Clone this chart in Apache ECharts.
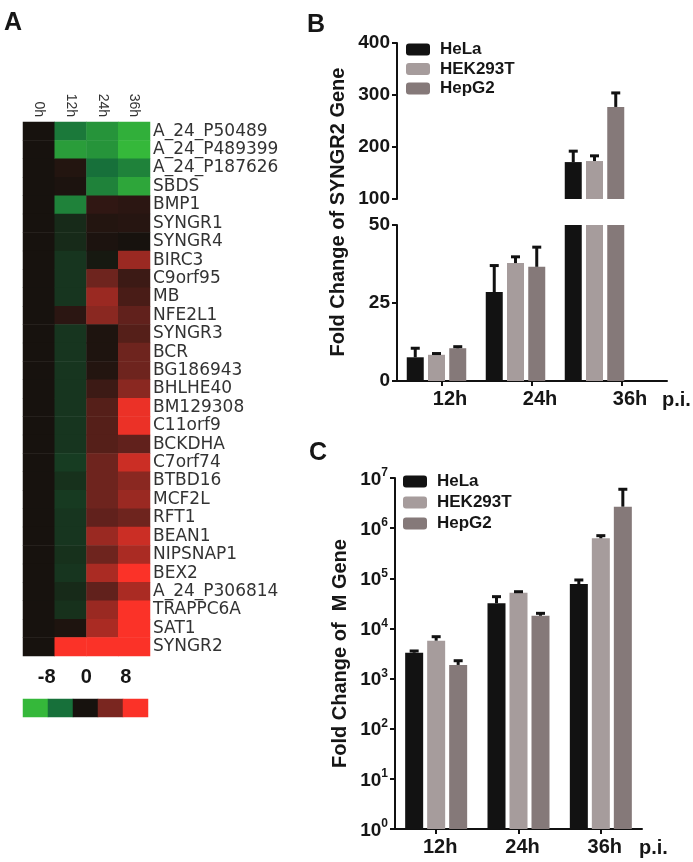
<!DOCTYPE html>
<html>
<head>
<meta charset="utf-8">
<script src="https://cdn.jsdelivr.net/npm/echarts@6/dist/echarts.min.js"></script>
<style>
html,body{margin:0;padding:0;background:#fff;}
#chart{width:693px;height:862px;}
</style>
</head>
<body>
<div id="chart"></div>
<script>
// ---------- Panel A data ----------
const genes = ['A_24_P50489','A_24_P489399','A_24_P187626','SBDS','BMP1','SYNGR1','SYNGR4','BIRC3','C9orf95','MB','NFE2L1','SYNGR3','BCR','BG186943','BHLHE40','BM129308','C11orf9','BCKDHA','C7orf74','BTBD16','MCF2L','RFT1','BEAN1','NIPSNAP1','BEX2','A_24_P306814','TRAPPC6A','SAT1','SYNGR2'];
const timepoints = ['0h','12h','24h','36h'];
const expr0h  = [0,0,0,0,0,0,0,0,0,0,0,0,0,0,0,0,0,0,0,0,0,0,0,0,0,0,0,0,0];
const expr12h = [-4.5,-6.5,0.5,0.2,-5,-1,-1,-1.5,-1.5,-1.5,0.8,-1.5,-1.5,-1.5,-1.5,-1.5,-1.5,-1.5,-1.8,-1.3,-1.7,-1.5,-1.5,-1.3,-1.5,-1.0,-1.3,0.3,8];
const expr24h = [-6,-6,-4,-5,1,0.5,0.2,-0.3,3.5,5,4.5,0.3,0.3,0.5,1.5,2.5,2.5,2.5,3.5,3.5,3.5,3,5,3.5,5.5,3,5,5.5,8];
const expr36h = [-7.5,-8,-5,-7,0.8,0.6,0,5,1.5,2,3,2.5,3.5,3.5,4.5,7.5,7.5,3,6.5,4.5,5,3.5,6.5,5.5,8,5.5,8,8,8];
const colorbarValues = [-8,-4,0,4,8];
const colorbarTicks = [-8,0,8];

// ---------- Panel B data ----------
const bCats = ['12h','24h','36h'];
const helaB = [7.6, 28.5, 171];
const helaBErr = [2.9, 8.5, 21];
const hekB = [8.4, 37.8, 173];
const hekBErr = [0.4, 2.0, 10];
const hepg2B = [10.5, 36.6, 277];
const hepg2BErr = [0.5, 6.3, 27];
const bUpperTicks = [100, 200, 300, 400];
const bLowerTicks = [0, 25, 50];

// ---------- Panel C data ----------
const cCats = ['12h','24h','36h'];
const helaC = [3280, 31700, 76900];
const helaCErr = [270, 11300, 15600];
const hekC = [5700, 51600, 627000];
const hekCErr = [1140, 2400, 81000];
const hepg2C = [1870, 17900, 2680000];
const hepg2CErr = [400, 2100, 3280000];
const cExponents = [0,1,2,3,4,5,6,7];

const cellNames = ['HeLa','HEK293T','HepG2'];
const cellColors = ['#121212','#a69c9c','#857979'];

const FONT = '"Liberation Sans", Arial, sans-serif';
const TXT = '#161616';

// heatmap data
const exprCols = [expr0h, expr12h, expr24h, expr36h];
const heatData = [];
exprCols.forEach((col, xi) => col.forEach((v, yi) => heatData.push([xi, yi, v])));
const cbData = colorbarValues.map((v, i) => [i, 0, v]);

function errRender(k, bw, gap, capW, lw) {
  return function (params, api) {
    const cat = api.value(0), v = api.value(1), e = api.value(2);
    const p0 = api.coord([cat, v]);
    const p1 = api.coord([cat, v + e]);
    const x = p0[0] + (k - 1) * (bw + gap);
    return {
      type: 'group',
      children: [
        {type: 'line', shape: {x1: x, y1: p0[1], x2: x, y2: p1[1]}, style: {stroke: '#111', lineWidth: lw}},
        {type: 'line', shape: {x1: x - capW / 2, y1: p1[1], x2: x + capW / 2, y2: p1[1]}, style: {stroke: '#111', lineWidth: lw}}
      ]
    };
  };
}

const bVals = [helaB, hekB, hepg2B];
const bErrs = [helaBErr, hekBErr, hepg2BErr];
const cVals = [helaC, hekC, hepg2C];
const cErrs = [helaCErr, hekCErr, hepg2CErr];

const BW_B = 17, GAP_B = 4.25;
const BW_C = 18, GAP_C = 4;

const series = [];
series.push({type: 'heatmap', xAxisIndex: 0, yAxisIndex: 0, data: heatData, itemStyle: {borderWidth: 0}});
series.push({type: 'heatmap', xAxisIndex: 1, yAxisIndex: 1, data: cbData, itemStyle: {borderWidth: 0}});
// B upper bars
[0,1,2].forEach(k => series.push({type: 'bar', name: cellNames[k], xAxisIndex: 3, yAxisIndex: 2, data: bVals[k], barWidth: BW_B, barGap: (GAP_B / BW_B * 100) + '%', clip: true, itemStyle: {color: cellColors[k]}}));
// B lower bars
[0,1,2].forEach(k => series.push({type: 'bar', name: cellNames[k], xAxisIndex: 4, yAxisIndex: 3, data: bVals[k], barWidth: BW_B, barGap: (GAP_B / BW_B * 100) + '%', clip: true, itemStyle: {color: cellColors[k]}}));
// B error bars upper / lower
[[3,2],[4,3]].forEach(([xi, yi]) => {
  [0,1,2].forEach(k => series.push({
    type: 'custom', xAxisIndex: xi, yAxisIndex: yi, clip: true, z: 5,
    data: bVals[k].map((v, i) => [i, v, bErrs[k][i]]),
    encode: {x: 0, y: 1},
    renderItem: errRender(k, BW_B, GAP_B, 9, 3)
  }));
});
// C bars
[0,1,2].forEach(k => series.push({type: 'bar', name: cellNames[k], xAxisIndex: 6, yAxisIndex: 5, data: cVals[k], barWidth: BW_C, barGap: (GAP_C / BW_C * 100) + '%', itemStyle: {color: cellColors[k]}}));
[0,1,2].forEach(k => series.push({
  type: 'custom', xAxisIndex: 6, yAxisIndex: 5, z: 5,
  data: cVals[k].map((v, i) => [i, v, cErrs[k][i]]),
  encode: {x: 0, y: 1},
  renderItem: errRender(k, BW_C, GAP_C, 9, 3)
}));

const boldLbl = {fontFamily: FONT, fontWeight: 'bold', color: TXT};
const axisLineBlk = {show: true, lineStyle: {color: '#111', width: 2}};
const axisTickBlk = {show: true, length: 5, lineStyle: {color: '#111', width: 2}};

const option = {
  backgroundColor: '#fff',
  animation: false,
  title: [
    {text: 'A', left: -1, top: 6, textStyle: {fontFamily: FONT, fontWeight: 'bold', fontSize: 25, color: TXT}},
    {text: 'B', left: 302, top: 8, textStyle: {fontFamily: FONT, fontWeight: 'bold', fontSize: 25, color: TXT}},
    {text: 'C', left: 304, top: 436, textStyle: {fontFamily: FONT, fontWeight: 'bold', fontSize: 25, color: TXT}}
  ],
  legend: [
    {orient: 'vertical', left: 401, top: 36, data: cellNames, icon: 'roundRect', itemWidth: 24, itemHeight: 12, itemGap: 2.5,
     textStyle: {fontFamily: FONT, fontWeight: 'bold', fontSize: 17, color: TXT, padding: [0,0,0,5]}},
    {orient: 'vertical', left: 398, top: 468, data: cellNames, icon: 'roundRect', itemWidth: 24, itemHeight: 12, itemGap: 4,
     textStyle: {fontFamily: FONT, fontWeight: 'bold', fontSize: 17, color: TXT, padding: [0,0,0,5]}}
  ],
  visualMap: {
    show: false, min: -8, max: 8, dimension: 2, seriesIndex: [0, 1],
    inRange: {color: ['#35b83a', '#17703a', '#17120e', '#7a2620', '#fb3228']}
  },
  grid: [
    {left: 23, top: 122, width: 127, height: 534},
    {left: 23, top: 699, width: 125, height: 18},
    {left: 397, top: 43, width: 237, height: 156},
    {left: 397, top: 225, width: 237, height: 156},
    {left: 397, top: 43, width: 270, height: 338},
    {left: 395, top: 478, width: 247, height: 351}
  ],
  xAxis: [
    {type: 'category', gridIndex: 0, data: timepoints, position: 'top',
     axisLine: {show: false}, axisTick: {show: false},
     axisLabel: {rotate: 90, margin: 5, interval: 0, fontFamily: FONT, fontSize: 14, color: '#333'}},
    {type: 'category', gridIndex: 1, data: colorbarValues.map(String), position: 'bottom', show: false},
    {type: 'value', gridIndex: 1, position: 'top', min: -12.8, max: 12.5,
     axisLine: {show: false}, axisTick: {show: false}, splitLine: {show: false},
     axisLabel: {customValues: colorbarTicks, margin: 12, fontFamily: FONT, fontWeight: 'bold', fontSize: 20, color: TXT}},
    {type: 'category', gridIndex: 2, data: bCats, show: false},
    {type: 'category', gridIndex: 3, data: bCats, show: false},
    {type: 'category', gridIndex: 4, data: bCats, axisLine: axisLineBlk, axisTick: Object.assign({alignWithLabel: true}, axisTickBlk),
     axisLabel: Object.assign({fontSize: 20, margin: 8, padding: [0,0,0,16]}, boldLbl),
     name: 'p.i.', nameLocation: 'end', nameGap: -5,
     nameTextStyle: Object.assign({fontSize: 20, align: 'left', verticalAlign: 'top', padding: [9,0,0,0]}, boldLbl)},
    {type: 'category', gridIndex: 5, data: cCats, axisLine: axisLineBlk, axisTick: Object.assign({alignWithLabel: true}, axisTickBlk),
     axisLabel: Object.assign({fontSize: 20, margin: 8, padding: [0,0,0,8]}, boldLbl),
     name: 'p.i.', nameLocation: 'end', nameGap: -3,
     nameTextStyle: Object.assign({fontSize: 20, align: 'left', verticalAlign: 'top', padding: [9,0,0,0]}, boldLbl)}
  ],
  yAxis: [
    {type: 'category', gridIndex: 0, data: genes, inverse: true, position: 'right',
     axisLine: {show: false}, axisTick: {show: false},
     axisLabel: {margin: 3, interval: 0, fontFamily: '"DejaVu Sans", Verdana, sans-serif', fontSize: 17, color: '#333'}},
    {type: 'category', gridIndex: 1, data: [''], show: false},
    {type: 'value', gridIndex: 2, min: bUpperTicks[0], max: bUpperTicks[bUpperTicks.length - 1], interval: bUpperTicks[1] - bUpperTicks[0],
     splitLine: {show: false}, axisLine: axisLineBlk, axisTick: axisTickBlk,
     axisLabel: Object.assign({fontSize: 19, margin: 7}, boldLbl)},
    {type: 'value', gridIndex: 3, min: bLowerTicks[0], max: bLowerTicks[bLowerTicks.length - 1], interval: bLowerTicks[1] - bLowerTicks[0],
     splitLine: {show: false}, axisLine: axisLineBlk, axisTick: axisTickBlk,
     axisLabel: Object.assign({fontSize: 19, margin: 7}, boldLbl)},
    {type: 'value', gridIndex: 4, min: 0, max: 1, splitLine: {show: false}, axisLine: {show: false}, axisTick: {show: false}, axisLabel: {show: false},
     name: 'Fold Change of SYNGR2 Gene', nameLocation: 'middle', nameGap: 49,
     nameTextStyle: Object.assign({fontSize: 20}, boldLbl)},
    {type: 'log', gridIndex: 5, logBase: 10, min: Math.pow(10, cExponents[0]), max: Math.pow(10, cExponents[cExponents.length - 1]),
     splitLine: {show: false}, axisLine: axisLineBlk, axisTick: axisTickBlk,
     axisLabel: {margin: 7,
       formatter: function (v) {
         const e = Math.round(Math.log10(v));
         return cExponents.indexOf(e) >= 0 ? '{b|10}{s|' + e + '}' : '';
       },
       rich: {
         b: {fontFamily: FONT, fontWeight: 'bold', fontSize: 19, color: TXT, lineHeight: 22, verticalAlign: 'bottom'},
         s: {fontFamily: FONT, fontWeight: 'bold', fontSize: 12, color: TXT, verticalAlign: 'top', lineHeight: 22}
       }},
     name: 'Fold Change of  M Gene', nameLocation: 'middle', nameGap: 45,
     nameTextStyle: Object.assign({fontSize: 20}, boldLbl)}
  ],
  series: series
};

const chart = echarts.init(document.getElementById('chart'), null, {renderer: 'canvas'});
chart.setOption(option);
</script>
</body>
</html>
